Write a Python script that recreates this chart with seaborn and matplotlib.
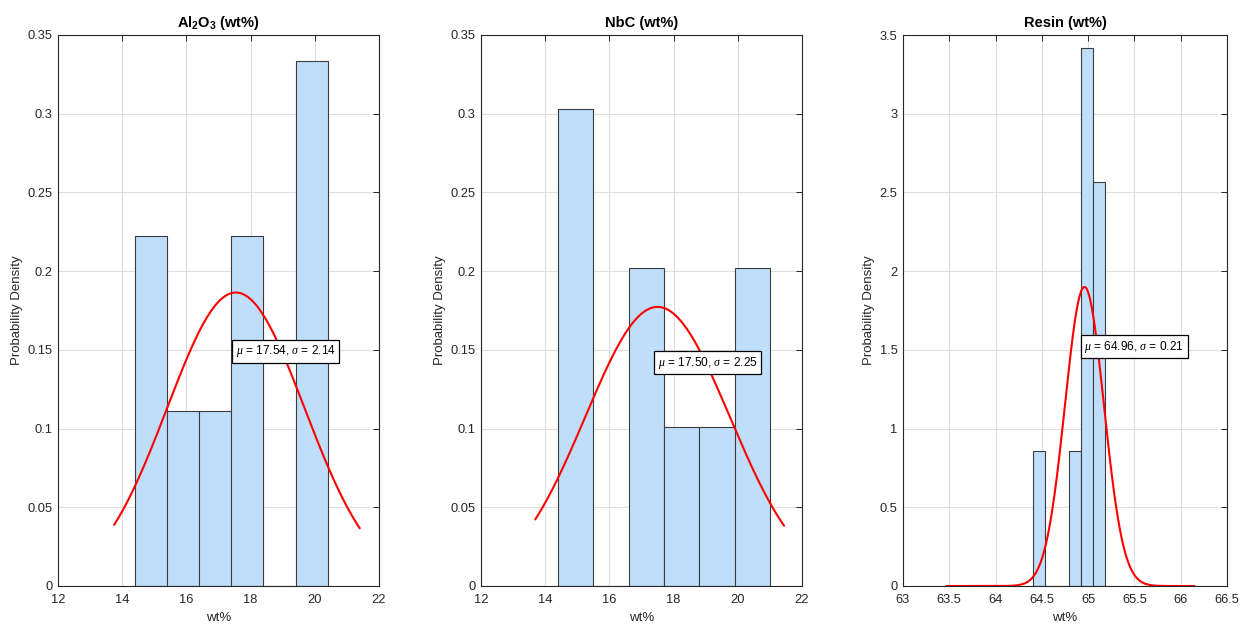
import numpy as np
import pandas as pd
import matplotlib
matplotlib.use('Agg')
import matplotlib.pyplot as plt
from matplotlib.ticker import FormatStrFormatter
import seaborn as sns

# ---------------- data ----------------
titles = [r'$\mathbf{Al_2O_3}$ (wt%)', 'NbC (wt%)', 'Resin (wt%)']

al_edges = [14.4, 15.4, 16.4, 17.4, 18.4, 19.4, 20.4]
al_counts = [2, 1, 1, 2, 0, 3]

nbc_edges = [14.4, 15.5, 16.6, 17.7, 18.8, 19.9, 21.0]
nbc_counts = [3, 0, 2, 1, 1, 2]

resin_edges = [64.40, 64.53, 64.66, 64.79, 64.92, 65.05, 65.18]
resin_counts = [1, 0, 0, 1, 4, 3]

mus = [17.54, 17.50, 64.96]
sigmas = [2.14, 2.25, 0.21]
curve_start = [13.75, 13.69, 63.47]
curve_end = [21.40, 21.44, 66.15]

xlims = [(12, 22), (12, 22), (63, 66.5)]
ylims = [(0, 0.35), (0, 0.35), (0, 3.5)]
xtick_vals = [[12, 14, 16, 18, 20, 22],
              [12, 14, 16, 18, 20, 22],
              [63, 63.5, 64, 64.5, 65, 65.5, 66, 66.5]]
ytick_vals = [[0, 0.05, 0.1, 0.15, 0.2, 0.25, 0.3, 0.35],
              [0, 0.05, 0.1, 0.15, 0.2, 0.25, 0.3, 0.35],
              [0, 0.5, 1, 1.5, 2, 2.5, 3, 3.5]]

# ---------------- style ----------------
sns.set_style('white')
plt.rcParams['font.family'] = ['Liberation Sans', 'DejaVu Sans']
plt.rcParams['mathtext.fontset'] = 'custom'
plt.rcParams['mathtext.rm'] = 'Liberation Sans'
plt.rcParams['mathtext.bf'] = 'Liberation Sans:bold'
plt.rcParams['mathtext.it'] = 'Liberation Serif:italic'

AX_COLOR = '#262626'
BAR_FACE = '#bfdefc'
BAR_EDGE = '#3c3c3c'

fig = plt.figure(figsize=(12.43, 6.26), dpi=100)
lefts = [58 / 1243, 481 / 1243, 903 / 1243]
widths = [321 / 1243, 321 / 1243, 324 / 1243]
bottom = 1 - 586 / 626
height = 551 / 626

hist_data = [(al_edges, al_counts), (nbc_edges, nbc_counts), (resin_edges, resin_counts)]

for i in range(3):
    ax = fig.add_axes([lefts[i], bottom, widths[i], height])
    edges, counts = hist_data[i]
    centers = [(edges[k] + edges[k + 1]) / 2 for k in range(len(counts))]
    df = pd.DataFrame({'x': centers, 'w': counts})
    sns.histplot(data=df, x='x', weights='w', bins=edges, stat='density',
                 color=BAR_FACE, alpha=1, edgecolor=BAR_EDGE, linewidth=0.8, ax=ax)

    mu, sd = mus[i], sigmas[i]
    xs = np.linspace(curve_start[i], curve_end[i], 300)
    ys = np.exp(-0.5 * ((xs - mu) / sd) ** 2) / (sd * np.sqrt(2 * np.pi))
    sns.lineplot(x=xs, y=ys, color='red', linewidth=1.5, ax=ax)

    peak = 1 / (sd * np.sqrt(2 * np.pi))
    ax.text(mu, 0.8 * peak, rf'$\mu$ = {mu:.2f}, $\sigma$ = {sd:.2f}',
            fontsize=8.6, ha='left', va='center', color='black', zorder=5,
            bbox=dict(boxstyle='square,pad=0.3', facecolor='white',
                      edgecolor='black', linewidth=0.9))

    ax.set_xlim(*xlims[i])
    ax.set_ylim(*ylims[i])
    ax.set_xticks(xtick_vals[i])
    ax.set_yticks(ytick_vals[i])
    ax.xaxis.set_major_formatter(FormatStrFormatter('%g'))
    ax.yaxis.set_major_formatter(FormatStrFormatter('%g'))
    ax.grid(True, color='#dedede', linewidth=0.8)
    ax.set_axisbelow(True)
    ax.tick_params(direction='in', length=4.5, width=0.7, colors=AX_COLOR,
                   labelsize=9.3, top=True, right=True, labelcolor=AX_COLOR)
    ax.tick_params(axis='x', pad=6)
    ax.tick_params(axis='y', pad=4)
    for sp in ax.spines.values():
        sp.set_visible(True)
        sp.set_color(AX_COLOR)
        sp.set_linewidth(0.8)
    ax.set_xlabel('wt%', fontsize=9.5, color=AX_COLOR, labelpad=4)
    ax.set_ylabel('Probability Density', fontsize=9.5, color=AX_COLOR, labelpad=3)
    ax.set_title(titles[i], fontsize=10.5, fontweight='bold', color='black', pad=6)

fig.savefig('out.png', dpi=100, facecolor='white')
